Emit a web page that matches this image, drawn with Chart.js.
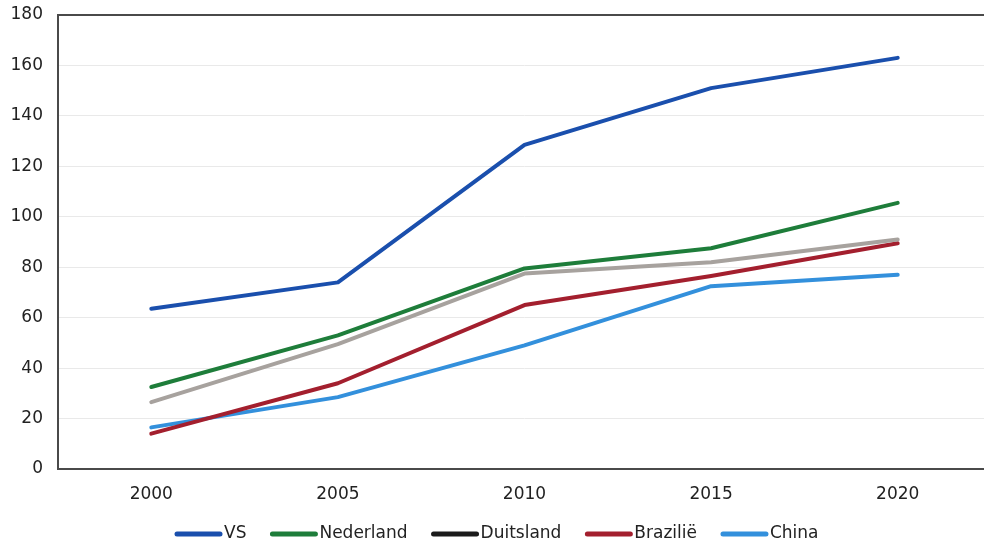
<!DOCTYPE html>
<html>
<head>
<meta charset="utf-8">
<script src="https://cdn.jsdelivr.net/npm/chart.js"></script>
<style>
  html, body { margin: 0; padding: 0; background: #fff; overflow: hidden; }
  #chart { display: block; }
</style>
</head>
<body>
<canvas id="chart" width="1000" height="547"></canvas>
<script>
const years = ['2000', '2005', '2010', '2015', '2020'];
const yTicks = [0, 20, 40, 60, 80, 100, 120, 140, 160, 180];

const vs = [63.5, 74, 128.5, 151, 163];
const nederland = [32.5, 53, 79.5, 87.5, 105.5];
const duitsland = [26.5, 49.5, 77.5, 82, 91];
const brazilie = [14, 34, 65, 76.5, 89.5];
const china = [16.5, 28.5, 49, 72.5, 77];

const seriesNames = ['VS', 'Nederland', 'Duitsland', 'Brazilië', 'China'];
const lineColors = ['#1a4fad', '#1e7d3a', '#a7a29e', '#a31f2e', '#3390dc'];
const legendColors = ['#1a4fad', '#1e7d3a', '#1b1b1b', '#a31f2e', '#3390dc'];

const FONT = '"DejaVu Sans", Verdana, sans-serif';

function makeSet(i, values) {
  return {
    label: seriesNames[i],
    data: values,
    borderColor: lineColors[i],
    backgroundColor: lineColors[i],
    borderWidth: 4,
    tension: 0,
    pointRadius: 0,
    borderCapStyle: 'round',
    borderJoinStyle: 'round',
    fill: false
  };
}

// frame around plot area (top, left, bottom; right side is off screen)
const framePlugin = {
  id: 'frame',
  afterDatasetsDraw(chart) {
    const { ctx, chartArea: a } = chart;
    ctx.save();
    ctx.strokeStyle = '#4a4a4a';
    ctx.lineWidth = 2;
    ctx.strokeRect(a.left, a.top, a.right - a.left, a.bottom - a.top);
    ctx.restore();
  }
};

// legend drawn by hand: thick line swatch, small gap, label
const legendPlugin = {
  id: 'lineLegend',
  afterDraw(chart) {
    const ctx = chart.ctx;
    ctx.save();
    ctx.font = '17px ' + FONT;
    ctx.textBaseline = 'middle';
    let x = 175;
    const y = 534;
    seriesNames.forEach((name, i) => {
      ctx.strokeStyle = legendColors[i];
      ctx.lineWidth = 5;
      ctx.lineCap = 'round';
      ctx.beginPath();
      ctx.moveTo(x + 2, y);
      ctx.lineTo(x + 45, y);
      ctx.stroke();
      ctx.fillStyle = '#222';
      ctx.fillText(name, x + 49, y);
      x += 49 + ctx.measureText(name).width + 24;
    });
    ctx.restore();
  }
};

new Chart(document.getElementById('chart'), {
  type: 'line',
  data: {
    labels: years,
    datasets: [
      makeSet(0, vs),
      makeSet(1, nederland),
      makeSet(2, duitsland),
      makeSet(3, brazilie),
      makeSet(4, china)
    ]
  },
  options: {
    responsive: false,
    animation: false,
    layout: { padding: { top: 15, left: 0, right: 9, bottom: 38 } },
    plugins: {
      legend: { display: false },
      tooltip: { enabled: false }
    },
    scales: {
      x: {
        offset: true,
        grid: { display: false, drawTicks: false },
        border: { display: false },
        ticks: { color: '#222', font: { family: FONT, size: 17 }, padding: 15, maxRotation: 0 },
        afterFit(scale) { scale.height = 40; }
      },
      y: {
        min: 0,
        max: 180,
        afterBuildTicks(scale) { scale.ticks = yTicks.map(v => ({ value: v })); },
        grid: {
          color: (c) => (c.tick && (c.tick.value === 0 || c.tick.value === 180)) ? 'rgba(0,0,0,0)' : '#e9e9e9',
          lineWidth: 1,
          drawTicks: false
        },
        border: { display: false },
        ticks: { color: '#222', font: { family: FONT, size: 17 }, padding: 15 },
        afterFit(scale) {
          scale.width = 58;
          scale.paddingTop = 0;
          scale.paddingBottom = 0;
        }
      }
    }
  },
  plugins: [framePlugin, legendPlugin]
});
</script>
</body>
</html>
